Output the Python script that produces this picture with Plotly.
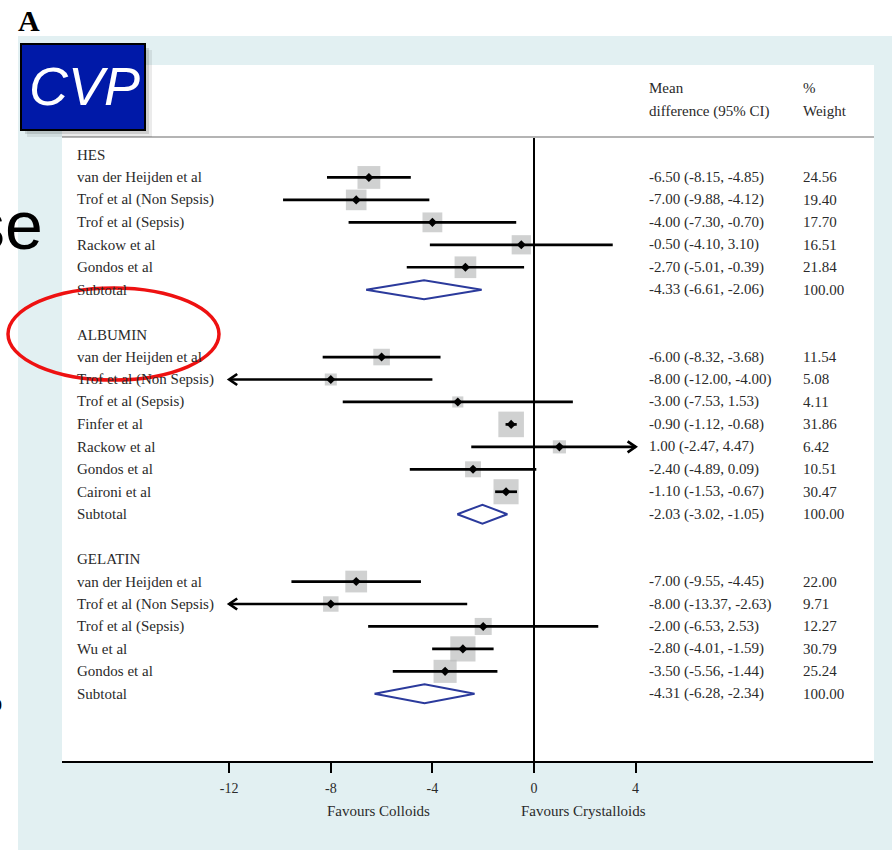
import numpy as np
import plotly.graph_objects as go

W, H = 892, 850

# ---------------- data ----------------
group_names = ["HES", "ALBUMIN", "GELATIN"]

hes_studies = ["van der Heijden et al", "Trof et al (Non Sepsis)", "Trof et al (Sepsis)",
               "Rackow et al", "Gondos et al"]
hes_md = [-6.50, -7.00, -4.00, -0.50, -2.70]
hes_lo = [-8.15, -9.88, -7.30, -4.10, -5.01]
hes_hi = [-4.85, -4.12, -0.70, 3.10, -0.39]
hes_wt = [24.56, 19.40, 17.70, 16.51, 21.84]
hes_sub = [-4.33, -6.61, -2.06]

alb_studies = ["van der Heijden et al", "Trof et al (Non Sepsis)", "Trof et al (Sepsis)",
               "Finfer et al", "Rackow et al", "Gondos et al", "Caironi et al"]
alb_md = [-6.00, -8.00, -3.00, -0.90, 1.00, -2.40, -1.10]
alb_lo = [-8.32, -12.00, -7.53, -1.12, -2.47, -4.89, -1.53]
alb_hi = [-3.68, -4.00, 1.53, -0.68, 4.47, 0.09, -0.67]
alb_wt = [11.54, 5.08, 4.11, 31.86, 6.42, 10.51, 30.47]
alb_sub = [-2.03, -3.02, -1.05]

gel_studies = ["van der Heijden et al", "Trof et al (Non Sepsis)", "Trof et al (Sepsis)",
               "Wu et al", "Gondos et al"]
gel_md = [-7.00, -8.00, -2.00, -2.80, -3.50]
gel_lo = [-9.55, -13.37, -6.53, -4.01, -5.56]
gel_hi = [-4.45, -2.63, 2.53, -1.59, -1.44]
gel_wt = [22.00, 9.71, 12.27, 30.79, 25.24]
gel_sub = [-4.31, -6.28, -2.34]

x_ticks = [-12, -8, -4, 0, 4]
x_clip = [-12, 4]
axis_titles = ["Favours Colloids", "Favours Crystalloids"]
col_headers = [["Mean", "difference (95% CI)"], ["%", "Weight"]]

groups = [
    (group_names[0], hes_studies, hes_md, hes_lo, hes_hi, hes_wt, hes_sub),
    (group_names[1], alb_studies, alb_md, alb_lo, alb_hi, alb_wt, alb_sub),
    (group_names[2], gel_studies, gel_md, gel_lo, gel_hi, gel_wt, gel_sub),
]

# ---------------- geometry helpers ----------------
def px(x):
    return x / W

def py(y):
    return 1 - y / H

PLOT_L, PLOT_R, PLOT_T, PLOT_B = 62, 873, 65, 761
ZERO_PX, UNIT_PX = 534, 25.4
ROW0_PX, ROW_PX = 155, 22.45
x_range = [(PLOT_L - ZERO_PX) / UNIT_PX, (PLOT_R - ZERO_PX) / UNIT_PX]
y_range = [-(PLOT_B - ROW0_PX) / ROW_PX, -(PLOT_T - ROW0_PX) / ROW_PX]

serif = "Liberation Serif"
txt_col = "#2a2a2a"

# ---------------- build rows ----------------
rows = []  # (kind, label, md, lo, hi, wt)
for gi, (gname, studies, md, lo, hi, wt, sub) in enumerate(groups):
    rows.append(("header", gname, None, None, None, None))
    for s, m, l, h, w in zip(studies, md, lo, hi, wt):
        rows.append(("study", s, m, l, h, w))
    rows.append(("sub", "Subtotal", sub[0], sub[1], sub[2], 100.0))
    if gi < len(groups) - 1:
        rows.append(("blank", "", None, None, None, None))

fig = go.Figure()

ci_x, ci_y = [], []
arr_x, arr_y = [], []
sq_x, sq_y, sq_s = [], [], []
dm_x, dm_y = [], []
sub_x, sub_y = [], []
annotations = []

dx_arrow = 8 / UNIT_PX
dy_arrow = 5.5 / ROW_PX
dh_sub = 9.5 / ROW_PX

for i, (kind, label, m, l, h, w) in enumerate(rows):
    y = -i
    if label:
        annotations.append(dict(x=px(75), y=y, xref="paper", yref="y", text=label,
                                showarrow=False, xanchor="left", yanchor="middle",
                                font=dict(family=serif, size=15, color=txt_col)))
    if kind == "study":
        l_c = max(l, x_clip[0])
        h_c = min(h, x_clip[1])
        ci_x += [l_c, h_c, None]
        ci_y += [y, y, None]
        if l <= x_clip[0]:
            arr_x += [l_c + dx_arrow, l_c, l_c + dx_arrow, None]
            arr_y += [y + dy_arrow, y, y - dy_arrow, None]
        if h >= x_clip[1]:
            arr_x += [h_c - dx_arrow, h_c, h_c - dx_arrow, None]
            arr_y += [y + dy_arrow, y, y - dy_arrow, None]
        sq_x.append(m)
        sq_y.append(y)
        sq_s.append(3 + 4 * np.sqrt(w))
        dm_x.append(m)
        dm_y.append(y)
    if kind == "sub":
        sub_x += [l, m, h, m, l, None]
        sub_y += [y, y + dh_sub, y, y - dh_sub, y, None]
    if kind in ("study", "sub"):
        annotations.append(dict(x=px(647), y=y, xref="paper", yref="y",
                                text=f"{m:.2f} ({l:.2f}, {h:.2f})",
                                showarrow=False, xanchor="left", yanchor="middle",
                                font=dict(family=serif, size=15, color=txt_col)))
        annotations.append(dict(x=px(801), y=y, xref="paper", yref="y",
                                text=f"{w:.2f}",
                                showarrow=False, xanchor="left", yanchor="middle",
                                font=dict(family=serif, size=15, color=txt_col)))

fig.add_trace(go.Scatter(x=sq_x, y=sq_y, mode="markers",
                         marker=dict(symbol="square", size=sq_s, color="#bcbebe",
                                     line=dict(width=0)),
                         hoverinfo="skip"))
fig.add_trace(go.Scatter(x=ci_x, y=ci_y, mode="lines",
                         line=dict(color="black", width=2.7), hoverinfo="skip"))
fig.add_trace(go.Scatter(x=arr_x, y=arr_y, mode="lines",
                         line=dict(color="black", width=2.7), hoverinfo="skip"))
fig.add_trace(go.Scatter(x=dm_x, y=dm_y, mode="markers",
                         marker=dict(symbol="diamond", size=7, color="black"),
                         hoverinfo="skip"))
fig.add_trace(go.Scatter(x=sub_x, y=sub_y, mode="lines",
                         line=dict(color="#2b3a9c", width=2), hoverinfo="skip"))

# column headers
for (top, bot), xp in zip(col_headers, [647, 801]):
    annotations.append(dict(x=px(xp), y=py(88), xref="paper", yref="paper", text=top,
                            showarrow=False, xanchor="left", yanchor="middle",
                            font=dict(family=serif, size=15, color=txt_col)))
    annotations.append(dict(x=px(xp), y=py(111), xref="paper", yref="paper", text=bot,
                            showarrow=False, xanchor="left", yanchor="middle",
                            font=dict(family=serif, size=15, color=txt_col)))

# axis titles
for t, xc in zip(axis_titles, [378, 583]):
    annotations.append(dict(x=px(xc), y=py(811), xref="paper", yref="paper", text=t,
                            showarrow=False, xanchor="center", yanchor="middle",
                            font=dict(family=serif, size=15, color=txt_col)))

# panel label, CVP badge, slide fragments
annotations.append(dict(x=px(16), y=py(20), xref="paper", yref="paper", text="A",
                        showarrow=False, xanchor="left", yanchor="middle",
                        font=dict(family=serif, size=30, color="black", weight=700)))
annotations.append(dict(x=px(84), y=py(86), xref="paper", yref="paper", text="CVP",
                        showarrow=False, xanchor="center", yanchor="middle",
                        font=dict(family="Liberation Sans", size=54, color="white",
                                  style="italic")))
annotations.append(dict(x=px(45), y=py(225), xref="paper", yref="paper", text="se",
                        showarrow=False, xanchor="right", yanchor="middle",
                        font=dict(family="Liberation Sans", size=68, color="black")))
annotations.append(dict(x=px(4), y=py(703), xref="paper", yref="paper", text="o",
                        showarrow=False, xanchor="right", yanchor="middle",
                        font=dict(family="Liberation Sans", size=22, color="black")))

shapes = [
    # light blue slide panel
    dict(type="rect", xref="paper", yref="paper", x0=px(18), x1=1.0, y0=0, y1=py(36),
         fillcolor="#e2f0f2", line=dict(width=0), layer="below"),
    # white chart panel
    dict(type="rect", xref="paper", yref="paper", x0=px(62), x1=px(874), y0=py(PLOT_B),
         y1=py(PLOT_T), fillcolor="white", line=dict(width=0), layer="below"),
    # header rule
    dict(type="line", xref="paper", yref="paper", x0=px(62), x1=px(874), y0=py(137),
         y1=py(137), line=dict(color="#b4b4b4", width=2)),
    # zero line
    dict(type="line", xref="x", yref="paper", x0=0, x1=0, y0=py(PLOT_B), y1=py(137),
         line=dict(color="black", width=2), layer="below"),
    # CVP badge shadow
    dict(type="rect", xref="paper", yref="paper", x0=px(27), x1=px(152), y0=py(137),
         y1=py(50), fillcolor="rgba(0,0,0,0.08)", line=dict(width=0)),
    dict(type="rect", xref="paper", yref="paper", x0=px(25), x1=px(149), y0=py(134),
         y1=py(48), fillcolor="rgba(0,0,0,0.12)", line=dict(width=0)),
    # CVP badge
    dict(type="rect", xref="paper", yref="paper", x0=px(21), x1=px(145), y0=py(130),
         y1=py(44), fillcolor="#0019a8", line=dict(color="black", width=2)),
    # red ellipse
    dict(type="circle", xref="paper", yref="paper", x0=px(8), x1=px(219), y0=py(380),
         y1=py(288), line=dict(color="#ee1111", width=3.5)),
]

fig.update_layout(
    width=W, height=H, autosize=False,
    margin=dict(l=0, r=0, t=0, b=0),
    paper_bgcolor="white", plot_bgcolor="rgba(0,0,0,0)",
    showlegend=False,
    xaxis=dict(domain=[px(PLOT_L), px(PLOT_R)], range=x_range, tickmode="array",
               tickvals=x_ticks, ticktext=[str(t) for t in x_ticks],
               showgrid=False, zeroline=False, showline=True, linecolor="black",
               linewidth=2, ticks="outside", ticklen=10, tickwidth=2, tickcolor="black",
               ticklabelstandoff=3,
               tickfont=dict(family=serif, size=14, color=txt_col), fixedrange=True),
    yaxis=dict(domain=[py(PLOT_B), py(PLOT_T)], range=y_range, visible=False,
               fixedrange=True),
    annotations=annotations,
    shapes=shapes,
)

fig.write_html("out.html")
